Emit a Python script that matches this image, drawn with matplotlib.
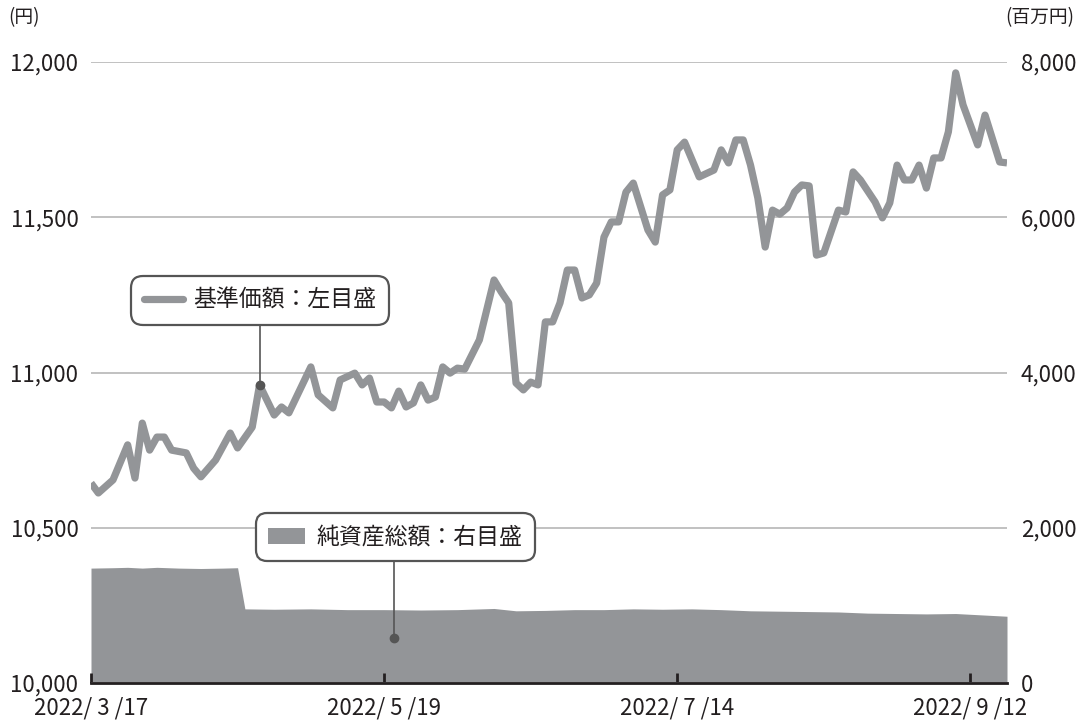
import numpy as np
import matplotlib
matplotlib.use("Agg")
import matplotlib.pyplot as plt
from matplotlib.patches import Patch
from matplotlib.lines import Line2D

plt.rcParams['font.family'] = ['Noto Sans CJK JP', 'DejaVu Sans']

# trading-day index from 2022/3/17
price_day = [0, 1, 3, 5, 6, 7, 8, 9, 10, 11, 13, 14, 15, 17, 19, 20, 22, 23, 25, 26,
             27, 30, 31, 33, 34, 36, 37, 38, 39, 40, 41, 42, 43, 44, 45, 46, 47, 48, 49, 50,
             51, 53, 55, 56, 57, 58, 59, 60, 61, 62, 63, 64, 65, 66, 67, 68, 69, 70, 71, 72,
             73, 74, 76, 77, 78, 79, 80, 81, 83, 85, 86, 87, 88, 89, 90, 91, 92, 93, 94, 95,
             96, 97, 98, 99, 100, 102, 103, 104, 105, 107, 108, 109, 110, 111, 112, 113, 114, 115, 116, 117,
             118, 119, 121, 122, 124, 125]
price = [10644, 10612, 10654, 10767, 10660, 10837, 10750, 10792, 10792, 10750, 10741, 10692, 10664, 10718, 10805, 10757, 10824, 10960, 10863, 10889,
         10870, 11018, 10928, 10886, 10976, 10998, 10960, 10982, 10905, 10905, 10886, 10940, 10889, 10902, 10960, 10911, 10921, 11018, 10998, 11014,
         11011, 11105, 11298, 11259, 11224, 10966, 10944, 10969, 10960, 11163, 11163, 11224, 11330, 11330, 11240, 11250, 11288, 11436, 11485, 11485,
         11581, 11610, 11459, 11420, 11572, 11588, 11717, 11742, 11630, 11652, 11717, 11675, 11749, 11749, 11668, 11562, 11404, 11523, 11510, 11530,
         11581, 11604, 11601, 11378, 11385, 11523, 11517, 11646, 11620, 11549, 11498, 11546, 11668, 11620, 11620, 11668, 11594, 11691, 11691, 11775,
         11965, 11862, 11733, 11829, 11678, 11675]

asset_day = [0, 3, 5, 7, 9, 12, 15, 18, 20, 21, 25, 30, 35, 40, 45, 50, 55, 58, 62, 66,
             70, 74, 78, 82, 86, 90, 94, 98, 102, 106, 110, 114, 118, 121, 125]
assets = [1480, 1485, 1490, 1480, 1490, 1480, 1475, 1480, 1485, 955, 950, 955, 945, 945, 940, 945, 960, 930, 935, 945,
          945, 955, 950, 955, 945, 930, 925, 920, 915, 900, 895, 890, 895, 880, 860]

tick_days = [0, 40, 80, 120]
tick_labels = ['2022/ 3 /17', '2022/ 5 /19', '2022/ 7 /14', '2022/ 9 /12']

gray = '#939598'
dark = '#231f20'

fig = plt.figure(figsize=(10.88, 7.21), dpi=100)
ax1 = fig.add_axes([91 / 1088, 1 - 683 / 721, 916 / 1088, 621 / 721])
ax2 = ax1.twinx()
ax1.set_zorder(ax2.get_zorder() + 1)
ax1.patch.set_visible(False)

ax2.fill_between(asset_day, assets, 0, color=gray, lw=0)
ax2.set_ylim(0, 8000)
ax2.set_yticks([0, 2000, 4000, 6000, 8000])
ax2.set_yticklabels(['0', '2,000', '4,000', '6,000', '8,000'])

line, = ax1.plot(price_day, price, color=gray, lw=5.2, solid_joinstyle='round',
                 solid_capstyle='butt', zorder=3)
ax1.set_ylim(10000, 12000)
ax1.set_xlim(0, 125)
ax1.set_yticks([10000, 10500, 11000, 11500, 12000])
ax1.set_yticklabels(['10,000', '10,500', '11,000', '11,500', '12,000'])
ax1.grid(axis='y', color='#bcbcbc', lw=1.3)
ax1.set_axisbelow(True)

ax1.set_xticks(tick_days)
ax1.set_xticklabels(tick_labels)

for a in (ax1, ax2):
    for s in ('top', 'left', 'right', 'bottom'):
        a.spines[s].set_visible(False)
ax1.spines['bottom'].set_visible(True)
ax1.spines['bottom'].set_color(dark)
ax1.spines['bottom'].set_linewidth(2)

ax1.tick_params(axis='y', length=0, pad=9, labelsize=16, labelcolor=dark)
ax2.tick_params(axis='y', length=0, pad=10, labelsize=16, labelcolor=dark)
ax1.tick_params(axis='x', direction='in', length=7, width=2, color=dark, pad=10,
                labelsize=16, labelcolor=dark)

fig.text(8 / 1088, 1 - 18 / 721, '(円)', fontsize=13.5, color=dark, va='center', ha='left')
fig.text(1005 / 1088, 1 - 18 / 721, '(百万円)', fontsize=13.5, color=dark, va='center', ha='left')

# legend boxes with leader lines
h1 = Line2D([], [], color=gray, lw=5.2, solid_capstyle='round')
leg1 = ax1.legend([h1], ['基準価額：左目盛'], loc='center', bbox_to_anchor=(0.1845, 0.616),
                  fontsize=16.5, handlelength=1.7, handletextpad=0.45, borderpad=0.55,
                  fancybox=True, framealpha=1, edgecolor='#555555', labelcolor=dark)
leg1.get_frame().set_linewidth(1.6)
leg1.get_frame().set_boxstyle('round', pad=0, rounding_size=0.5)
ax1.add_artist(leg1)

h2 = Patch(facecolor=gray, edgecolor='none')
leg2 = ax1.legend([h2], ['純資産総額：右目盛'], loc='center', bbox_to_anchor=(0.332, 0.235),
                  fontsize=16.5, handlelength=1.6, handletextpad=0.5, borderpad=0.55,
                  fancybox=True, framealpha=1, edgecolor='#555555', labelcolor=dark)
leg2.get_frame().set_linewidth(1.6)
leg2.get_frame().set_boxstyle('round', pad=0, rounding_size=0.5)

ax1.plot([23, 23], [11163, 10960], color='#555555', lw=1.2, zorder=4)
ax1.plot([23], [10960], 'o', color='#555555', ms=6, zorder=5)
ax2.plot([41.3, 41.3], [1597, 580], color='#555555', lw=1.2, zorder=4)
ax2.plot([41.3], [580], 'o', color='#555555', ms=6, zorder=5)

fig.savefig('out.png', dpi=100)
